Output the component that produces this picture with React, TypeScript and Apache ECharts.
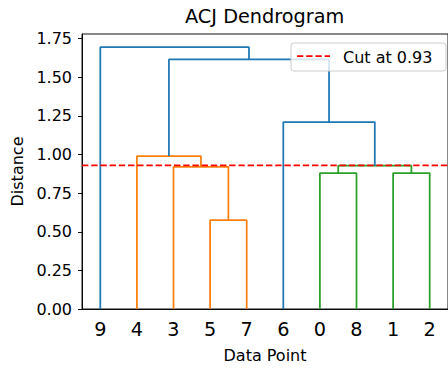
import React, { useEffect, useRef } from "react";
import * as echarts from "echarts";

// Leaf order along the x axis (scipy convention: leaf i sits at x = 5 + 10*i)
const leafLabels = ["9", "4", "3", "5", "7", "6", "0", "8", "1", "2"];

// Dendrogram links (scipy icoord / dcoord style: [left-bottom, left-top, right-top, right-bottom])
const icoord = [
  [35, 35, 45, 45],
  [25, 25, 40, 40],
  [15, 15, 32.5, 32.5],
  [65, 65, 75, 75],
  [85, 85, 95, 95],
  [70, 70, 90, 90],
  [55, 55, 80, 80],
  [23.75, 23.75, 67.5, 67.5],
  [5, 5, 45.625, 45.625],
];
const dcoord = [
  [0, 0.575, 0.575, 0],
  [0, 0.92, 0.92, 0.575],
  [0, 0.99, 0.99, 0.92],
  [0, 0.88, 0.88, 0],
  [0, 0.88, 0.88, 0],
  [0.88, 0.928, 0.928, 0.88],
  [0, 1.21, 1.21, 0.928],
  [0.99, 1.615, 1.615, 1.21],
  [0, 1.695, 1.695, 1.615],
];
const linkColors = ["C1", "C1", "C1", "C2", "C2", "C2", "C0", "C0", "C0"];

const cutHeight = 0.93;
const yTicks = [0, 0.25, 0.5, 0.75, 1.0, 1.25, 1.5, 1.75];
const yMax = 1.78;

const palette: Record<string, string> = {
  C0: "#1f77b4",
  C1: "#ff7f0e",
  C2: "#2ca02c",
};

const FONT = "DejaVu Sans";

export default function App() {
  const ref = useRef<HTMLDivElement>(null);

  useEffect(() => {
    document.body.style.margin = "0";
    if (!ref.current) return;
    const chart = echarts.init(ref.current, undefined, { renderer: "svg" });

    const leafPositions = leafLabels.map((_, i) => 5 + 10 * i);

    const linkSeries = icoord.map((xs, i) => ({
      type: "line",
      data: xs.map((x, j) => [x, dcoord[i][j]]),
      showSymbol: false,
      symbol: "none",
      silent: true,
      lineStyle: { color: palette[linkColors[i]], width: 1.75 },
      z: 2,
    }));

    const cutSeries = {
      type: "line",
      name: `Cut at ${cutHeight}`,
      data: [
        [0, cutHeight],
        [100, cutHeight],
      ],
      showSymbol: false,
      symbol: "none",
      silent: true,
      lineStyle: { color: "#ff0000", width: 1.75, type: [6.4, 2.8] },
      z: 5,
    };

    chart.setOption({
      animation: false,
      backgroundColor: "#ffffff",
      title: {
        text: "ACJ Dendrogram",
        left: 185,
        top: 7,
        padding: 0,
        textStyle: {
          fontFamily: FONT,
          fontSize: 19.3,
          fontWeight: "normal",
          color: "#000",
        },
      },
      grid: {
        left: 82,
        top: 34,
        width: 367.5,
        height: 275,
        show: true,
        borderColor: "#000",
        borderWidth: 0.93,
        backgroundColor: "transparent",
      },
      xAxis: {
        type: "value",
        min: 0,
        max: 100,
        name: "Data Point",
        nameLocation: "middle",
        nameGap: 38,
        nameTextStyle: { fontFamily: FONT, fontSize: 16, color: "#000" },
        axisLine: { show: true, lineStyle: { color: "#000", width: 0.93 } },
        axisTick: { show: false },
        splitLine: { show: false },
        axisLabel: {
          customValues: leafPositions,
          formatter: (v: number) => leafLabels[Math.round((v - 5) / 10)] ?? "",
          fontFamily: FONT,
          fontSize: 19.3,
          color: "#000",
          margin: 11,
        },
      },
      yAxis: {
        type: "value",
        min: 0,
        max: yMax,
        name: "Distance",
        nameLocation: "middle",
        nameGap: 56,
        nameTextStyle: { fontFamily: FONT, fontSize: 16, color: "#000" },
        axisLine: { show: true, lineStyle: { color: "#000", width: 0.93 } },
        axisTick: {
          show: true,
          customValues: yTicks,
          length: 4,
          lineStyle: { color: "#000", width: 0.93 },
        },
        splitLine: { show: false },
        axisLabel: {
          customValues: yTicks,
          formatter: (v: number) => v.toFixed(2),
          fontFamily: FONT,
          fontSize: 16,
          color: "#000",
          margin: 10,
        },
      },
      graphic: [
        {
          type: "rect",
          z: 100,
          shape: { x: 291, y: 43, width: 155, height: 28, r: 3 },
          style: { fill: "rgba(255,255,255,0.8)", stroke: "#cccccc", lineWidth: 1 },
        },
        {
          type: "line",
          z: 101,
          shape: { x1: 297, y1: 56, x2: 330, y2: 56 },
          style: { stroke: "#ff0000", lineWidth: 1.75, lineDash: [6.4, 2.8] },
        },
        {
          type: "text",
          z: 101,
          x: 343,
          y: 57,
          style: {
            text: `Cut at ${cutHeight}`,
            fontFamily: FONT,
            fontSize: 16,
            fill: "#000",
            textVerticalAlign: "middle",
          },
        },
      ],
      series: [...linkSeries, cutSeries],
    });

    return () => chart.dispose();
  }, []);

  return <div ref={ref} style={{ width: 448, height: 370 }} />;
}
